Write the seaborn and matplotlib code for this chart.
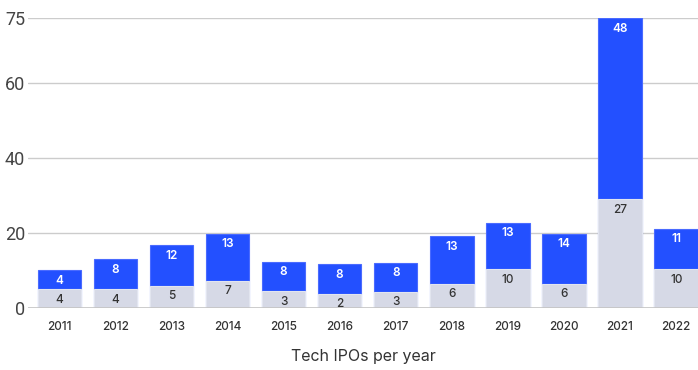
import numpy as np
import pandas as pd
import matplotlib
matplotlib.use("Agg")
import matplotlib.pyplot as plt
import seaborn as sns

# 연도별 데이터 (막대 높이는 그림에서 읽은 값, 라벨은 표시된 숫자)
years = ["2011", "2012", "2013", "2014", "2015", "2016",
         "2017", "2018", "2019", "2020", "2021", "2022"]
bottom_height = [5.1, 5.1, 6.0, 7.4, 4.5, 3.9, 4.4, 6.6, 10.4, 6.6, 29.1, 10.4]
total_height = [10.1, 13.1, 16.8, 19.9, 12.4, 11.7, 12.2, 19.2, 22.8, 19.8, 77.3, 21.2]
bottom_label = [4, 4, 5, 7, 3, 2, 3, 6, 10, 6, 27, 10]
top_label = [4, 8, 12, 13, 8, 8, 8, 13, 13, 14, 48, 11]
y_ticks = [0, 20, 40, 60, 77.3]
y_tick_labels = ["0", "20", "40", "60", "75"]

blue = "#2350FF"
grey = "#D6D9E6"

sns.set_theme(style="white")
plt.rcParams["font.family"] = ["Inter", "DejaVu Sans"]

df = pd.DataFrame({"year": years, "bottom": bottom_height, "total": total_height})

fig = plt.figure(figsize=(6.98, 3.70), dpi=100)
ax = fig.add_axes([28 / 698, 0.1668, 670 / 698, 0.7838])

# 그리드 먼저
for t in y_ticks[1:]:
    ax.axhline(t, color="#CCCCCC", lw=1.0, zorder=0)

sns.barplot(data=df, x="year", y="total", color=blue, width=0.774,
            saturation=1, ax=ax, zorder=2, edgecolor="#4A6BFF", linewidth=0.8)
sns.barplot(data=df, x="year", y="bottom", color=grey, width=0.774,
            saturation=1, ax=ax, zorder=3, edgecolor="#E2E5EF", linewidth=0.8)
ax.axhline(0, color="#C4C4C4", lw=1.2, zorder=4)

# 라벨
for i in range(len(years)):
    ax.annotate(str(top_label[i]), (i, total_height[i]), xytext=(0, -7.5),
                textcoords="offset points", ha="center", va="center",
                color="white", fontsize=8.5, fontweight="semibold", zorder=5)
    ax.annotate(str(bottom_label[i]), (i, bottom_height[i]), xytext=(0, -7.5),
                textcoords="offset points", ha="center", va="center",
                color="#333333", fontsize=8.5, fontweight="medium", zorder=5)

ax.set_xlim(-0.558, 11.39)
ax.set_ylim(0, y_ticks[-1])
ax.set_yticks(y_ticks)
ax.set_yticklabels(y_tick_labels, fontsize=13, color="#444444",
                   family=["Roboto", "DejaVu Sans"])
ax.tick_params(axis="y", length=0, pad=2)
ax.tick_params(axis="x", length=0, pad=9, labelsize=8.5, labelcolor="#333333")
for lab in ax.get_xticklabels():
    lab.set_fontweight("medium")
ax.set_xlabel("Tech IPOs per year", fontsize=11.5, color="#333333", labelpad=12)
ax.set_ylabel("")
for s in ax.spines.values():
    s.set_visible(False)

fig.savefig("out.png", dpi=100)
